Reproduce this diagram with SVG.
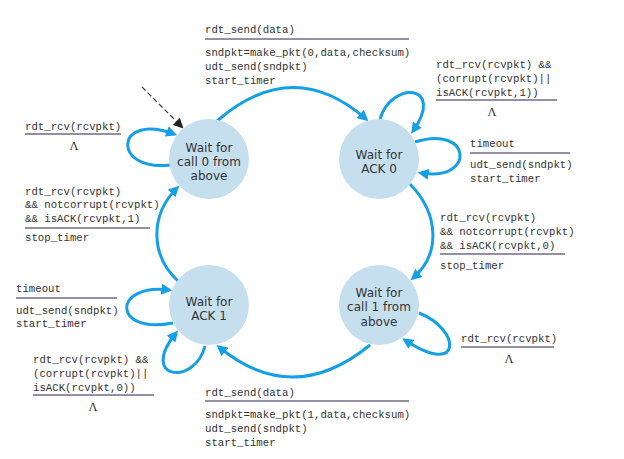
<svg xmlns="http://www.w3.org/2000/svg" width="624" height="459" viewBox="0 0 624 459">
<defs>
<style>
.st circle{fill:#c6dfef;}
.st text{font-family:"DejaVu Sans",sans-serif;font-size:12px;fill:#333;text-anchor:middle;}
.lbl text{font-family:"Liberation Mono","Courier New",monospace;font-size:10.7px;fill:#333;}
.lbl text.lam{font-family:"Liberation Serif","Times New Roman",serif;font-size:12.5px;text-anchor:middle;}
.lbl line{stroke:#6f6b88;stroke-width:1.5;}
.edge{fill:none;stroke:#15a0e6;stroke-width:3;marker-end:url(#ah);}
.init{fill:none;stroke:#444;stroke-width:1.3;stroke-dasharray:5,3;marker-end:url(#ahk);}
</style>
<marker id="ah" viewBox="0 0 10 10" refX="7" refY="5" markerWidth="11" markerHeight="11" markerUnits="userSpaceOnUse" orient="auto"><path d="M0,0 L10,5 L0,10 z" fill="#15a0e6"/></marker>
<marker id="ahk" viewBox="0 0 10 10" refX="8" refY="5" markerWidth="10" markerHeight="10" markerUnits="userSpaceOnUse" orient="auto"><path d="M0,0 L10,5 L0,10 z" fill="#222"/></marker>
</defs>
<rect width="624" height="459" fill="#fff"/>
<g id="connectors">
<path class="init" d="M142,87 L182,127"/>
<path class="edge" d="M217,121 Q293,55 366,119"/>
<path class="edge" d="M380,119 C392,80 446,84 413,131"/>
<path class="edge" d="M415,142 C472,124 476,182 421,173"/>
<path class="edge" d="M410,184 C440,215 440,255 413,278"/>
<path class="edge" d="M419,313 C462,330 462,378 405,340"/>
<path class="edge" d="M370,345 Q293,408 219,347"/>
<path class="edge" d="M173,323 C112,335 112,283 169,290"/>
<path class="edge" d="M205,346 C195,386 138,380 176,333"/>
<path class="edge" d="M178,281 C150,255 150,215 177,188"/>
<path class="edge" d="M170,165 C112,172 114,112 174,134"/>
</g>
<g id="call0" class="st"><circle cx="209" cy="159" r="40"/><text x="209" y="151.5">Wait for</text><text x="209" y="165.8">call 0 from</text><text x="209" y="180.1">above</text></g>
<g id="ack0" class="st"><circle cx="379" cy="159" r="40"/><text x="379" y="159">Wait for</text><text x="379" y="173.3">ACK 0</text></g>
<g id="ack1" class="st"><circle cx="209" cy="305" r="40"/><text x="209" y="305.5">Wait for</text><text x="209" y="319.8">ACK 1</text></g>
<g id="call1" class="st"><circle cx="379" cy="305" r="40"/><text x="379" y="297">Wait for</text><text x="379" y="311.3">call 1 from</text><text x="379" y="325.6">above</text></g>
<g id="labels" class="lbl">
<text x="205" y="32.5">rdt_send(data)</text><line x1="205" y1="39" x2="409" y2="39"/>
<text x="205" y="55.5">sndpkt=make_pkt(0,data,checksum)</text><text x="205" y="69.5">udt_send(sndpkt)</text><text x="205" y="83.5">start_timer</text>
<text x="25" y="129.5">rdt_rcv(rcvpkt)</text><line x1="25" y1="134" x2="121" y2="134"/><text class="lam" x="74" y="150">Λ</text>
<text x="25" y="194.5">rdt_rcv(rcvpkt)</text><text x="25" y="208">&amp;&amp; notcorrupt(rcvpkt)</text><text x="25" y="221.5">&amp;&amp; isACK(rcvpkt,1)</text><line x1="25" y1="228" x2="150" y2="228"/><text x="25" y="240.5">stop_timer</text>
<text x="436" y="67.5">rdt_rcv(rcvpkt) &amp;&amp;</text><text x="436" y="81.5">(corrupt(rcvpkt)||</text><text x="436" y="95.5">isACK(rcvpkt,1))</text><line x1="436" y1="100" x2="557" y2="100"/><text class="lam" x="492" y="116">Λ</text>
<text x="470" y="146.5">timeout</text><line x1="470" y1="153" x2="570" y2="153"/><text x="470" y="167.5">udt_send(sndpkt)</text><text x="470" y="181.5">start_timer</text>
<text x="440" y="220.5">rdt_rcv(rcvpkt)</text><text x="440" y="234.5">&amp;&amp; notcorrupt(rcvpkt)</text><text x="440" y="248.5">&amp;&amp; isACK(rcvpkt,0)</text><line x1="440" y1="254" x2="565" y2="254"/><text x="440" y="268.5">stop_timer</text>
<text x="461" y="341.5">rdt_rcv(rcvpkt)</text><line x1="461" y1="347" x2="554" y2="347"/><text class="lam" x="509" y="363">Λ</text>
<text x="16" y="291.5">timeout</text><line x1="16" y1="298" x2="117" y2="298"/><text x="16" y="313.5">udt_send(sndpkt)</text><text x="16" y="326.5">start_timer</text>
<text x="33" y="362.5">rdt_rcv(rcvpkt) &amp;&amp;</text><text x="33" y="376.5">(corrupt(rcvpkt)||</text><text x="33" y="390.5">isACK(rcvpkt,0))</text><line x1="33" y1="395" x2="154" y2="395"/><text class="lam" x="93" y="411">Λ</text>
<text x="205" y="395.5">rdt_send(data)</text><line x1="205" y1="401" x2="409" y2="401"/>
<text x="205" y="417.5">sndpkt=make_pkt(1,data,checksum)</text><text x="205" y="431.5">udt_send(sndpkt)</text><text x="205" y="445.5">start_timer</text>
</g>
</svg>
